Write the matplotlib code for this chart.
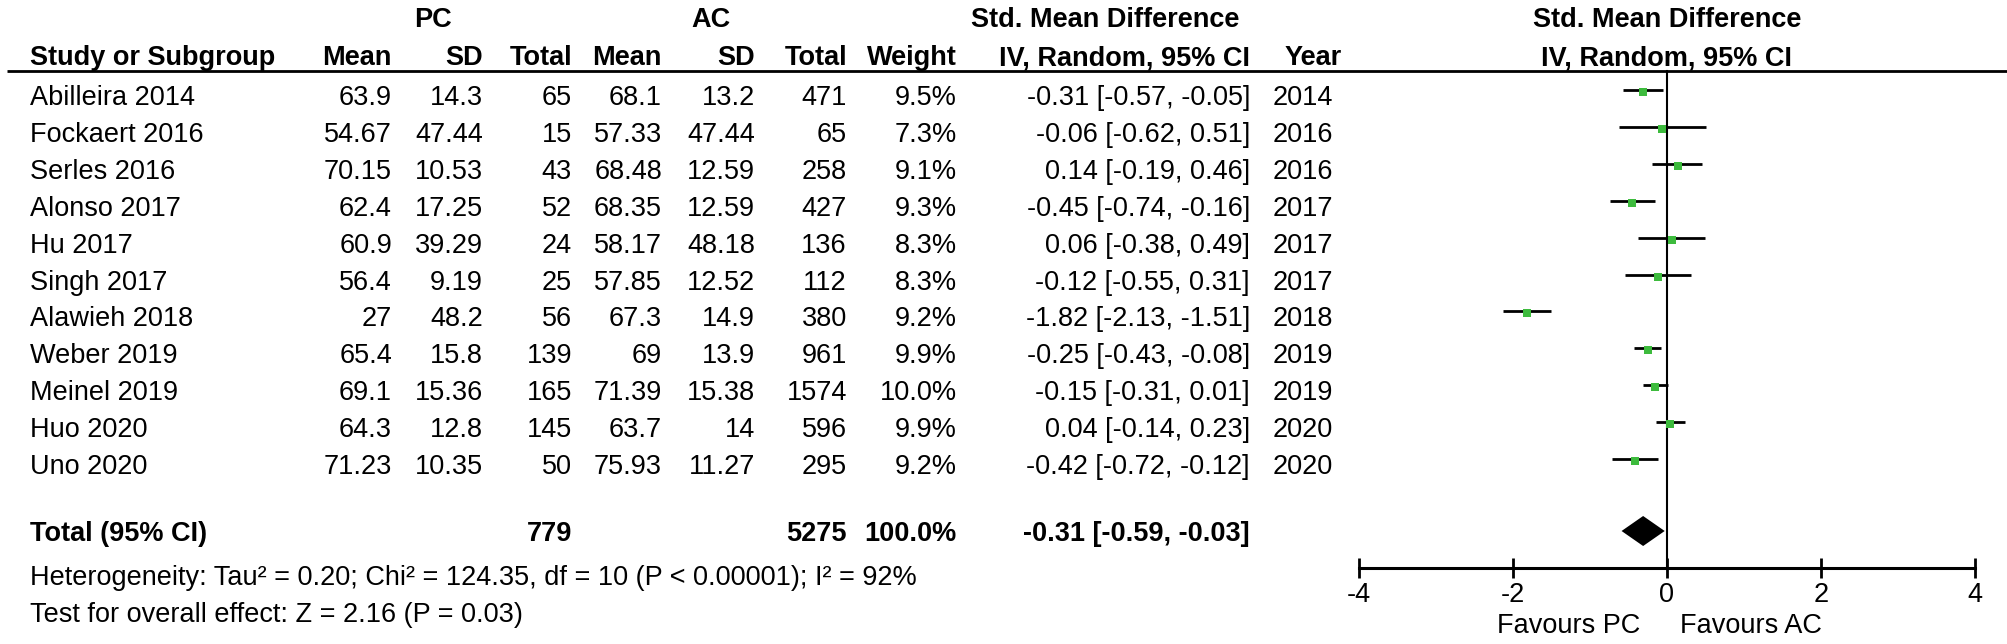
import matplotlib
matplotlib.use("Agg")
import matplotlib.pyplot as plt

plt.rcParams["font.family"] = ["Liberation Sans", "DejaVu Sans"]
plt.rcParams["axes.unicode_minus"] = False

# ---- data ----
studies = ["Abilleira 2014", "Fockaert 2016", "Serles 2016", "Alonso 2017", "Hu 2017",
           "Singh 2017", "Alawieh 2018", "Weber 2019", "Meinel 2019", "Huo 2020", "Uno 2020"]
pc_mean = [63.9, 54.67, 70.15, 62.4, 60.9, 56.4, 27, 65.4, 69.1, 64.3, 71.23]
pc_sd = [14.3, 47.44, 10.53, 17.25, 39.29, 9.19, 48.2, 15.8, 15.36, 12.8, 10.35]
pc_total = [65, 15, 43, 52, 24, 25, 56, 139, 165, 145, 50]
ac_mean = [68.1, 57.33, 68.48, 68.35, 58.17, 57.85, 67.3, 69, 71.39, 63.7, 75.93]
ac_sd = [13.2, 47.44, 12.59, 12.59, 48.18, 12.52, 14.9, 13.9, 15.38, 14, 11.27]
ac_total = [471, 65, 258, 427, 136, 112, 380, 961, 1574, 596, 295]
weight = [9.5, 7.3, 9.1, 9.3, 8.3, 8.3, 9.2, 9.9, 10.0, 9.9, 9.2]
smd = [-0.31, -0.06, 0.14, -0.45, 0.06, -0.12, -1.82, -0.25, -0.15, 0.04, -0.42]
ci_lo = [-0.57, -0.62, -0.19, -0.74, -0.38, -0.55, -2.13, -0.43, -0.31, -0.14, -0.72]
ci_hi = [-0.05, 0.51, 0.46, -0.16, 0.49, 0.31, -1.51, -0.08, 0.01, 0.23, -0.12]
years = [2014, 2016, 2016, 2017, 2017, 2017, 2018, 2019, 2019, 2020, 2020]

total_pc = 779
total_ac = 5275
total_smd = -0.31
total_lo = -0.59
total_hi = -0.03

x_ticks = [-4, -2, 0, 2, 4]
heterogeneity = "Heterogeneity: Tau² = 0.20; Chi² = 124.35, df = 10 (P < 0.00001); I² = 92%"
overall = "Test for overall effect: Z = 2.16 (P = 0.03)"

# ---- layout (pixels, figure is 2008 x 644) ----
W, H = 2008, 644
FS = 19.5
col_right = [392, 483, 572, 662, 755, 847, 957, 1250]
name_x = 30
year_x = 1273
row0, row_step = 105, 36.9
y_total = 541
axis_y = 568
line_y = 71

fig = plt.figure(figsize=(W / 100, H / 100), dpi=100)
tab = fig.add_axes([0, 0, 1, 1])
tab.set_xlim(0, W)
tab.set_ylim(H, 0)
tab.axis("off")


def put(x, y, s, ha="right", bold=False):
    tab.text(x, y, s, ha=ha, va="baseline", fontsize=FS,
             fontweight="bold" if bold else "normal", color="black")


# headers
put(433, 27, "PC", ha="center", bold=True)
put(711, 27, "AC", ha="center", bold=True)
put(1105, 27, "Std. Mean Difference", ha="center", bold=True)
put(name_x, 65, "Study or Subgroup", ha="left", bold=True)
for x, s in zip(col_right, ["Mean", "SD", "Total", "Mean", "SD", "Total", "Weight",
                            "IV, Random, 95% CI"]):
    put(x, 65, s, bold=True)
put(1285, 65, "Year", ha="left", bold=True)
tab.plot([7, W], [line_y, line_y], color="black", lw=2.0, solid_capstyle="butt")

# study rows
for i, name in enumerate(studies):
    y = row0 + row_step * i
    ci = f"{smd[i]:.2f} [{ci_lo[i]:.2f}, {ci_hi[i]:.2f}]"
    vals = [f"{pc_mean[i]:g}", f"{pc_sd[i]:g}", f"{pc_total[i]}", f"{ac_mean[i]:g}",
            f"{ac_sd[i]:g}", f"{ac_total[i]}", f"{weight[i]:.1f}%", ci]
    put(name_x, y, name, ha="left")
    for x, s in zip(col_right, vals):
        put(x, y, s)
    put(year_x, y, str(years[i]), ha="left")

# total row
put(name_x, y_total, "Total (95% CI)", ha="left", bold=True)
put(col_right[2], y_total, str(total_pc), bold=True)
put(col_right[5], y_total, str(total_ac), bold=True)
put(col_right[6], y_total, f"{sum(weight):.1f}%", bold=True)
put(col_right[7], y_total, f"{total_smd:.2f} [{total_lo:.2f}, {total_hi:.2f}]", bold=True)
put(name_x, 585, heterogeneity, ha="left")
put(name_x, 622, overall, ha="left")

# ---- forest panel ----
fa = fig.add_axes([1359 / W, 0, 616 / W, 1])
fa.set_xlim(-4, 4)
fa.set_ylim(H, 0)
fa.patch.set_alpha(0)
for side in ["top", "left", "right"]:
    fa.spines[side].set_visible(False)
fa.spines["bottom"].set_position(("data", axis_y))
fa.spines["bottom"].set_linewidth(2.2)
fa.set_yticks([])
fa.set_xticks(x_ticks)
fa.set_xticklabels([str(t) for t in x_ticks])
fa.tick_params(axis="x", direction="inout", length=14, width=2, labelsize=FS, pad=3)

fa.text(0, 27, "Std. Mean Difference", ha="center", va="baseline", fontsize=FS, fontweight="bold")
fa.text(0, 65, "IV, Random, 95% CI", ha="center", va="baseline", fontsize=FS, fontweight="bold")

fa.plot([0, 0], [line_y, axis_y], color="black", lw=1.5)
for i in range(len(studies)):
    y = row0 + row_step * i
    fa.plot([ci_lo[i], ci_hi[i]], [y - 15, y - 15], color="black", lw=2.0,
            solid_capstyle="butt", zorder=2)
    fa.scatter([smd[i]], [y - 13], marker="s", s=(4.2 + 0.17 * weight[i]) ** 2,
               color="#3dbb3d", linewidths=0, zorder=3)

yd = 531
fa.fill([total_lo, total_smd, total_hi, total_smd], [yd, yd - 15, yd, yd + 15],
        color="black", lw=0, zorder=3)

fa.text(-0.35, 633, "Favours PC", ha="right", va="baseline", fontsize=FS)
fa.text(0.17, 633, "Favours AC", ha="left", va="baseline", fontsize=FS)

fig.savefig("out.png", dpi=100)
plt.close(fig)
